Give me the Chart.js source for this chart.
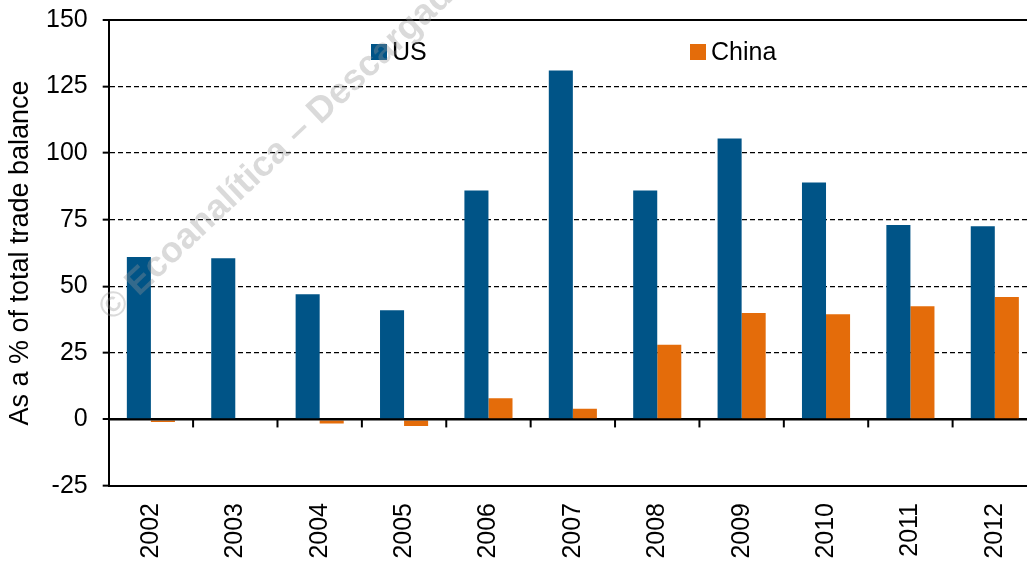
<!DOCTYPE html>
<html>
<head>
<meta charset="utf-8">
<script src="https://cdn.jsdelivr.net/npm/chart.js@4.4.1/dist/chart.umd.min.js"></script>
<style>
html,body{margin:0;padding:0;background:#fff;overflow:hidden;}
#wrap{position:absolute;left:0;top:0;width:1037px;height:561px;}
</style>
</head>
<body>
<div id="wrap"><canvas id="chart"></canvas></div>
<script>
// values
const years = ['2002','2003','2004','2005','2006','2007','2008','2009','2010','2011','2012'];
const usValues = [61, 60.5, 47, 41, 86, 131, 86, 105.5, 89, 73, 72.5];
const chinaValues = [-1, 0, -1.5, -2.5, 8, 4, 28, 40, 39.5, 42.5, 46];
const yTicks = [-25, 0, 25, 50, 75, 100, 125, 150];

const FONT = '"Liberation Sans", Arial, sans-serif';
const usColor = '#005487';
const chinaColor = '#E46C0A';

// short ticks hanging under the zero line, between categories
const zeroTicks = {
  id: 'zeroTicks',
  afterDatasetsDraw(chart) {
    const x = chart.scales.x, y = chart.scales.y, ctx = chart.ctx;
    const y0 = y.getPixelForValue(0);
    ctx.save();
    ctx.strokeStyle = '#000';
    ctx.lineWidth = 2;
    ctx.beginPath();
    ctx.moveTo(chart.chartArea.left, y0);
    ctx.lineTo(chart.chartArea.right, y0);
    ctx.stroke();
    for (let i = 1; i < years.length; i++) {
      const px = (x.getPixelForValue(i - 1) + x.getPixelForValue(i)) / 2;
      ctx.beginPath();
      ctx.moveTo(px, y0);
      ctx.lineTo(px, y0 + 8);
      ctx.stroke();
    }
    ctx.restore();
  }
};

// legend sits inside the plot
const innerLegend = {
  id: 'innerLegend',
  afterDraw(chart) {
    const ctx = chart.ctx;
    const spots = [371, 690];
    ctx.save();
    ctx.font = '25px ' + FONT;
    ctx.textBaseline = 'middle';
    chart.data.datasets.forEach((ds, i) => {
      ctx.fillStyle = ds.backgroundColor;
      ctx.fillRect(spots[i], 44, 16, 16);
      ctx.fillStyle = '#000';
      ctx.fillText(ds.label, spots[i] + 21, 53);
    });
    ctx.restore();
  }
};

const watermark = {
  id: 'watermark',
  afterDraw(chart) {
    const ctx = chart.ctx;
    ctx.save();
    ctx.translate(112, 322);
    ctx.rotate(-Math.PI / 4.15);
    ctx.font = 'bold 36px ' + FONT;
    ctx.fillStyle = 'rgba(150,150,150,0.35)';
    ctx.textBaseline = 'alphabetic';
    ctx.fillText('© Ecoanalítica – Descargado', 0, 0);
    ctx.restore();
  }
};

new Chart(document.getElementById('chart'), {
  type: 'bar',
  data: {
    labels: years,
    datasets: [
      {label: 'US', data: usValues, backgroundColor: usColor},
      {label: 'China', data: chinaValues, backgroundColor: chinaColor}
    ]
  },
  options: {
    responsive: true,
    maintainAspectRatio: false,
    animation: false,
    layout: {padding: {top: 20, left: 0, right: 0, bottom: 0}},
    plugins: {legend: {display: false}, tooltip: {enabled: false}},
    datasets: {bar: {categoryPercentage: 0.57, barPercentage: 1.0}},
    scales: {
      x: {
        afterFit(s) { s.height = 75; s.paddingLeft = 0; s.paddingRight = 0; },
        grid: {display: false, drawTicks: false},
        border: {display: true, color: '#000', width: 2},
        ticks: {
          color: '#000', font: {family: FONT, size: 25},
          minRotation: 90, maxRotation: 90, padding: 17, autoSkip: false
        }
      },
      y: {
        min: -25, max: 150,
        afterFit(s) { s.width = 108.7; s.paddingTop = 0; s.paddingBottom = 0; },
        afterBuildTicks(s) { s.ticks = yTicks.map(v => ({value: v})); },
        title: {
          display: true, text: 'As a % of total trade balance', color: '#000',
          font: {family: FONT, size: 27}, padding: {top: 4, bottom: 0}
        },
        grid: {
          color: '#000',
          lineWidth: c => (c.tick && (c.tick.value === 150 || c.tick.value === 0)) ? 2 : 1.3,
          tickLength: 6, tickColor: '#000', tickWidth: 2
        },
        border: {
          display: true, color: '#000', width: 2,
          dash: c => (c.tick && (c.tick.value === 150 || c.tick.value === 0)) ? [] : [5, 3]
        },
        ticks: {color: '#000', font: {family: FONT, size: 25}, padding: 15}
      }
    }
  },
  plugins: [zeroTicks, innerLegend, watermark]
});
</script>
</body>
</html>
